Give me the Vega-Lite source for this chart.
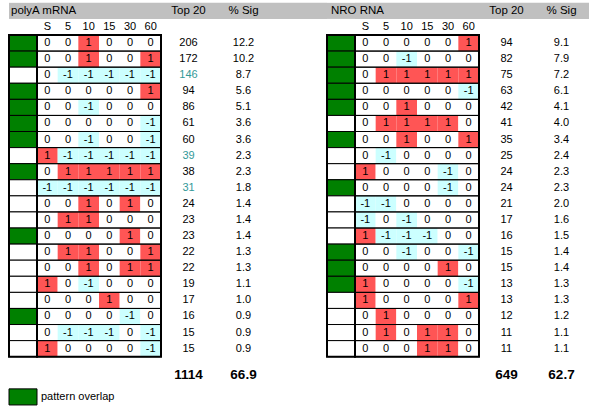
{
  "$schema": "https://vega.github.io/schema/vega-lite/v6.json",
  "padding": {"left": 8, "top": 0, "right": 0, "bottom": 0},
  "spacing": 0,
  "bounds": "flush",
  "config": {
    "font": "Liberation Sans",
    "view": {"stroke": null},
    "axis": {"disable": true},
    "text": {"font": "Liberation Sans", "fontSize": 11, "baseline": "middle", "color": "black"}
  },
  "datasets": {
    "patterns": [
      {"p":"polyA mRNA","rank":1,"overlap":true,"S":0,"5":0,"10":1,"15":0,"30":0,"60":0,"top20":206,"sig":12.2},
      {"p":"polyA mRNA","rank":2,"overlap":true,"S":0,"5":0,"10":1,"15":0,"30":0,"60":1,"top20":172,"sig":10.2},
      {"p":"polyA mRNA","rank":3,"overlap":false,"S":0,"5":-1,"10":-1,"15":-1,"30":-1,"60":-1,"top20":146,"sig":8.7},
      {"p":"polyA mRNA","rank":4,"overlap":true,"S":0,"5":0,"10":0,"15":0,"30":0,"60":1,"top20":94,"sig":5.6},
      {"p":"polyA mRNA","rank":5,"overlap":true,"S":0,"5":0,"10":-1,"15":0,"30":0,"60":0,"top20":86,"sig":5.1},
      {"p":"polyA mRNA","rank":6,"overlap":true,"S":0,"5":0,"10":0,"15":0,"30":0,"60":-1,"top20":61,"sig":3.6},
      {"p":"polyA mRNA","rank":7,"overlap":true,"S":0,"5":0,"10":-1,"15":0,"30":0,"60":-1,"top20":60,"sig":3.6},
      {"p":"polyA mRNA","rank":8,"overlap":false,"S":1,"5":-1,"10":-1,"15":-1,"30":-1,"60":-1,"top20":39,"sig":2.3},
      {"p":"polyA mRNA","rank":9,"overlap":true,"S":0,"5":1,"10":1,"15":1,"30":1,"60":1,"top20":38,"sig":2.3},
      {"p":"polyA mRNA","rank":10,"overlap":false,"S":-1,"5":-1,"10":-1,"15":-1,"30":-1,"60":-1,"top20":31,"sig":1.8},
      {"p":"polyA mRNA","rank":11,"overlap":false,"S":0,"5":0,"10":1,"15":0,"30":1,"60":0,"top20":24,"sig":1.4},
      {"p":"polyA mRNA","rank":12,"overlap":false,"S":0,"5":1,"10":1,"15":0,"30":0,"60":0,"top20":23,"sig":1.4},
      {"p":"polyA mRNA","rank":13,"overlap":true,"S":0,"5":0,"10":0,"15":0,"30":1,"60":0,"top20":23,"sig":1.4},
      {"p":"polyA mRNA","rank":14,"overlap":false,"S":0,"5":1,"10":1,"15":0,"30":0,"60":1,"top20":22,"sig":1.3},
      {"p":"polyA mRNA","rank":15,"overlap":false,"S":0,"5":0,"10":1,"15":0,"30":1,"60":1,"top20":22,"sig":1.3},
      {"p":"polyA mRNA","rank":16,"overlap":false,"S":1,"5":0,"10":-1,"15":0,"30":0,"60":0,"top20":19,"sig":1.1},
      {"p":"polyA mRNA","rank":17,"overlap":false,"S":0,"5":0,"10":0,"15":1,"30":0,"60":0,"top20":17,"sig":1.0},
      {"p":"polyA mRNA","rank":18,"overlap":true,"S":0,"5":0,"10":0,"15":0,"30":-1,"60":0,"top20":16,"sig":0.9},
      {"p":"polyA mRNA","rank":19,"overlap":false,"S":0,"5":-1,"10":-1,"15":-1,"30":0,"60":-1,"top20":15,"sig":0.9},
      {"p":"polyA mRNA","rank":20,"overlap":false,"S":1,"5":0,"10":0,"15":0,"30":0,"60":-1,"top20":15,"sig":0.9},
      {"p":"NRO RNA","rank":1,"overlap":true,"S":0,"5":0,"10":0,"15":0,"30":0,"60":1,"top20":94,"sig":9.1},
      {"p":"NRO RNA","rank":2,"overlap":true,"S":0,"5":0,"10":-1,"15":0,"30":0,"60":0,"top20":82,"sig":7.9},
      {"p":"NRO RNA","rank":3,"overlap":true,"S":0,"5":1,"10":1,"15":1,"30":1,"60":1,"top20":75,"sig":7.2},
      {"p":"NRO RNA","rank":4,"overlap":true,"S":0,"5":0,"10":0,"15":0,"30":0,"60":-1,"top20":63,"sig":6.1},
      {"p":"NRO RNA","rank":5,"overlap":true,"S":0,"5":0,"10":1,"15":0,"30":0,"60":0,"top20":42,"sig":4.1},
      {"p":"NRO RNA","rank":6,"overlap":false,"S":0,"5":1,"10":1,"15":1,"30":1,"60":0,"top20":41,"sig":4.0},
      {"p":"NRO RNA","rank":7,"overlap":true,"S":0,"5":0,"10":1,"15":0,"30":0,"60":1,"top20":35,"sig":3.4},
      {"p":"NRO RNA","rank":8,"overlap":false,"S":0,"5":-1,"10":0,"15":0,"30":0,"60":0,"top20":25,"sig":2.4},
      {"p":"NRO RNA","rank":9,"overlap":false,"S":1,"5":0,"10":0,"15":0,"30":-1,"60":0,"top20":24,"sig":2.3},
      {"p":"NRO RNA","rank":10,"overlap":true,"S":0,"5":0,"10":0,"15":0,"30":-1,"60":0,"top20":24,"sig":2.3},
      {"p":"NRO RNA","rank":11,"overlap":false,"S":-1,"5":-1,"10":0,"15":0,"30":0,"60":0,"top20":21,"sig":2.0},
      {"p":"NRO RNA","rank":12,"overlap":false,"S":-1,"5":0,"10":-1,"15":0,"30":0,"60":0,"top20":17,"sig":1.6},
      {"p":"NRO RNA","rank":13,"overlap":false,"S":1,"5":-1,"10":-1,"15":-1,"30":0,"60":0,"top20":16,"sig":1.5},
      {"p":"NRO RNA","rank":14,"overlap":true,"S":0,"5":0,"10":-1,"15":0,"30":0,"60":-1,"top20":15,"sig":1.4},
      {"p":"NRO RNA","rank":15,"overlap":true,"S":0,"5":0,"10":0,"15":0,"30":1,"60":0,"top20":15,"sig":1.4},
      {"p":"NRO RNA","rank":16,"overlap":true,"S":1,"5":0,"10":0,"15":0,"30":0,"60":-1,"top20":13,"sig":1.3},
      {"p":"NRO RNA","rank":17,"overlap":false,"S":1,"5":0,"10":0,"15":0,"30":0,"60":1,"top20":13,"sig":1.3},
      {"p":"NRO RNA","rank":18,"overlap":false,"S":0,"5":1,"10":0,"15":0,"30":0,"60":0,"top20":12,"sig":1.2},
      {"p":"NRO RNA","rank":19,"overlap":false,"S":0,"5":1,"10":0,"15":1,"30":1,"60":0,"top20":11,"sig":1.1},
      {"p":"NRO RNA","rank":20,"overlap":false,"S":0,"5":0,"10":0,"15":1,"30":1,"60":0,"top20":11,"sig":1.1}
    ],
    "totals": [
      {"p":"polyA mRNA","top20":1114,"sig":66.9},
      {"p":"NRO RNA","top20":649,"sig":62.7}
    ]
  },
  "hconcat": [
    {
      "width": 28, "height": 411,
      "layer": [
        {"data":{"values":[{}]},"mark":{"type":"rect","fill":"#c0c0c0"},
         "encoding":{"y":{"datum":"head","type":"ordinal","scale":{"type":"band","domain":["head","cols",1,2,3,4,5,6,7,8,9,10,11,12,13,14,15,16,17,18,19,20,"total","gap","legend"],"paddingInner":0,"paddingOuter":0.2759,"align":0.3189,"round":false}}}},
        {"data":{"name":"patterns"},"transform":[{"filter":"datum.p == 'polyA mRNA'"}],
         "mark":{"type":"rect","stroke":"black","strokeWidth":1},
         "encoding":{"y":{"field":"rank","type":"ordinal"},
                     "fill":{"condition":{"test":"datum.overlap","value":"#008000"},"value":"#ffffff"}}},
        {"data":{"values":[{}]},"mark":{"type":"rect","fill":"transparent","stroke":"black","strokeWidth":2},
         "encoding":{"y":{"datum":1,"type":"ordinal","bandPosition":0},"y2":{"datum":20,"bandPosition":1}}},
        {"data":{"values":[{"label":"pattern overlap"}]},"mark":{"type":"rect","fill":"#008000","stroke":"black","strokeWidth":1},
         "encoding":{"y":{"datum":"legend","type":"ordinal"}}},
        {"data":{"values":[{"label":"pattern overlap"}]},"mark":{"type":"text","align":"left","dx":18},
         "encoding":{"y":{"datum":"legend","type":"ordinal","bandPosition":0.5},"text":{"field":"label"}}}
      ]
    },
    {
      "width": 124, "height": 411,
      "layer": [
        {"data":{"values":[{}]},"mark":{"type":"rect","fill":"#c0c0c0"},
         "encoding":{"y":{"datum":"head","type":"ordinal","scale":{"type":"band","domain":["head","cols",1,2,3,4,5,6,7,8,9,10,11,12,13,14,15,16,17,18,19,20,"total","gap","legend"],"paddingInner":0,"paddingOuter":0.2759,"align":0.3189,"round":false}}}},
        {"data":{"name":"patterns"},"transform":[{"filter":"datum.p == 'polyA mRNA'"},{"fold":["S","5","10","15","30","60"],"as":["t","v"]}],
         "mark":{"type":"rect"},
         "encoding":{"x":{"field":"t","type":"ordinal","scale":{"type":"band","domain":["S","5","10","15","30","60"],"paddingInner":0,"paddingOuter":0,"round":false}},
                     "y":{"field":"rank","type":"ordinal"},
                     "fill":{"field":"v","type":"ordinal","scale":{"domain":[-1,0,1],"range":["#ccffff","#ffffff","#ff5555"]},"legend":null}}},
        {"data":{"values":[{"p":"polyA mRNA"}]},"mark":{"type":"text","align":"left","dx":-26,"fontSize":11.5},
         "encoding":{"x":{"datum":"S","type":"ordinal","bandPosition":0},
                     "y":{"datum":"head","type":"ordinal","bandPosition":0.5},"text":{"field":"p"}}},
        {"data":{"name":"patterns"},"transform":[{"filter":"datum.p == 'polyA mRNA'"},{"fold":["S","5","10","15","30","60"],"as":["t","v"]}],
         "mark":{"type":"text"},
         "encoding":{"x":{"field":"t","type":"ordinal","bandPosition":0.5},
                     "y":{"field":"rank","type":"ordinal","bandPosition":0.5},
                     "text":{"field":"v","type":"nominal"}}},
        {"data":{"name":"patterns"},"transform":[{"filter":"datum.p == 'polyA mRNA' && datum.rank == 1"},{"fold":["S","5","10","15","30","60"],"as":["t","v"]}],
         "mark":{"type":"text"},
         "encoding":{"x":{"field":"t","type":"ordinal","bandPosition":0.5},
                     "y":{"datum":"cols","type":"ordinal","bandPosition":0.5},
                     "text":{"field":"t","type":"nominal"}}},
        {"data":{"name":"patterns"},"transform":[{"filter":"datum.p == 'polyA mRNA'"}],
         "mark":{"type":"rect","fill":"transparent","stroke":"black","strokeWidth":1},
         "encoding":{"y":{"field":"rank","type":"ordinal"}}},
        {"data":{"values":[{}]},"mark":{"type":"rect","fill":"transparent","stroke":"black","strokeWidth":2},
         "encoding":{"y":{"datum":1,"type":"ordinal","bandPosition":0},"y2":{"datum":20,"bandPosition":1}}}
      ]
    },
    {
      "width": 166, "height": 411,
      "layer": [
        {"data":{"values":[{}]},"mark":{"type":"rect","fill":"#c0c0c0"},
         "encoding":{"y":{"datum":"head","type":"ordinal","scale":{"type":"band","domain":["head","cols",1,2,3,4,5,6,7,8,9,10,11,12,13,14,15,16,17,18,19,20,"total","gap","legend"],"paddingInner":0,"paddingOuter":0.2759,"align":0.3189,"round":false}}}},
        {"data":{"values":[{"h":"Top 20"},{"h":"% Sig"}]},"mark":{"type":"text","fontSize":11.5},
         "encoding":{"x":{"field":"h","type":"nominal","bandPosition":0.5,"scale":{"type":"band","domain":["Top 20","% Sig"],"paddingInner":0,"paddingOuter":0.509,"align":0,"round":false}},
                     "y":{"datum":"head","type":"ordinal","bandPosition":0.5},
                     "text":{"field":"h"}}},
        {"data":{"name":"patterns"},"transform":[{"filter":"datum.p == 'polyA mRNA'"}],
         "mark":{"type":"text"},
         "encoding":{"x":{"datum":"Top 20","type":"nominal","bandPosition":0.5},
                     "y":{"field":"rank","type":"ordinal","bandPosition":0.5},
                     "text":{"field":"top20","type":"nominal"},
                     "color":{"condition":{"test":"datum['5'] == -1 && datum['10'] == -1 && datum['15'] == -1 && datum['30'] == -1 && datum['60'] == -1","value":"#339999"},"value":"black"}}},
        {"data":{"name":"patterns"},"transform":[{"filter":"datum.p == 'polyA mRNA'"}],
         "mark":{"type":"text"},
         "encoding":{"x":{"datum":"% Sig","type":"nominal","bandPosition":0.5},
                     "y":{"field":"rank","type":"ordinal","bandPosition":0.5},
                     "text":{"field":"sig","type":"quantitative","format":".1f"}}},
        {"data":{"name":"totals"},"transform":[{"filter":"datum.p == 'polyA mRNA'"}],
         "mark":{"type":"text","fontWeight":"bold","fontSize":13.5,"dy":10},
         "encoding":{"x":{"datum":"Top 20","type":"nominal","bandPosition":0.5},
                     "y":{"datum":"total","type":"ordinal","bandPosition":0.5},
                     "text":{"field":"top20","type":"nominal"}}},
        {"data":{"name":"totals"},"transform":[{"filter":"datum.p == 'polyA mRNA'"}],
         "mark":{"type":"text","fontWeight":"bold","fontSize":13.5,"dy":10},
         "encoding":{"x":{"datum":"% Sig","type":"nominal","bandPosition":0.5},
                     "y":{"datum":"total","type":"ordinal","bandPosition":0.5},
                     "text":{"field":"sig","type":"quantitative","format":".1f"}}}
      ]
    },
    {
      "width": 28, "height": 411,
      "layer": [
        {"data":{"values":[{}]},"mark":{"type":"rect","fill":"#c0c0c0"},
         "encoding":{"y":{"datum":"head","type":"ordinal","scale":{"type":"band","domain":["head","cols",1,2,3,4,5,6,7,8,9,10,11,12,13,14,15,16,17,18,19,20,"total","gap","legend"],"paddingInner":0,"paddingOuter":0.2759,"align":0.3189,"round":false}}}},
        {"data":{"name":"patterns"},"transform":[{"filter":"datum.p == 'NRO RNA'"}],
         "mark":{"type":"rect","stroke":"black","strokeWidth":1},
         "encoding":{"y":{"field":"rank","type":"ordinal"},
                     "fill":{"condition":{"test":"datum.overlap","value":"#008000"},"value":"#ffffff"}}},
        {"data":{"values":[{}]},"mark":{"type":"rect","fill":"transparent","stroke":"black","strokeWidth":2},
         "encoding":{"y":{"datum":1,"type":"ordinal","bandPosition":0},"y2":{"datum":20,"bandPosition":1}}}
      ]
    },
    {
      "width": 124, "height": 411,
      "layer": [
        {"data":{"values":[{}]},"mark":{"type":"rect","fill":"#c0c0c0"},
         "encoding":{"y":{"datum":"head","type":"ordinal","scale":{"type":"band","domain":["head","cols",1,2,3,4,5,6,7,8,9,10,11,12,13,14,15,16,17,18,19,20,"total","gap","legend"],"paddingInner":0,"paddingOuter":0.2759,"align":0.3189,"round":false}}}},
        {"data":{"name":"patterns"},"transform":[{"filter":"datum.p == 'NRO RNA'"},{"fold":["S","5","10","15","30","60"],"as":["t","v"]}],
         "mark":{"type":"rect"},
         "encoding":{"x":{"field":"t","type":"ordinal","scale":{"type":"band","domain":["S","5","10","15","30","60"],"paddingInner":0,"paddingOuter":0,"round":false}},
                     "y":{"field":"rank","type":"ordinal"},
                     "fill":{"field":"v","type":"ordinal","scale":{"domain":[-1,0,1],"range":["#ccffff","#ffffff","#ff5555"]},"legend":null}}},
        {"data":{"values":[{"p":"NRO RNA"}]},"mark":{"type":"text","align":"left","dx":-24,"fontSize":11.5},
         "encoding":{"x":{"datum":"S","type":"ordinal","bandPosition":0},
                     "y":{"datum":"head","type":"ordinal","bandPosition":0.5},"text":{"field":"p"}}},
        {"data":{"name":"patterns"},"transform":[{"filter":"datum.p == 'NRO RNA'"},{"fold":["S","5","10","15","30","60"],"as":["t","v"]}],
         "mark":{"type":"text"},
         "encoding":{"x":{"field":"t","type":"ordinal","bandPosition":0.5},
                     "y":{"field":"rank","type":"ordinal","bandPosition":0.5},
                     "text":{"field":"v","type":"nominal"}}},
        {"data":{"name":"patterns"},"transform":[{"filter":"datum.p == 'NRO RNA' && datum.rank == 1"},{"fold":["S","5","10","15","30","60"],"as":["t","v"]}],
         "mark":{"type":"text"},
         "encoding":{"x":{"field":"t","type":"ordinal","bandPosition":0.5},
                     "y":{"datum":"cols","type":"ordinal","bandPosition":0.5},
                     "text":{"field":"t","type":"nominal"}}},
        {"data":{"name":"patterns"},"transform":[{"filter":"datum.p == 'NRO RNA'"}],
         "mark":{"type":"rect","fill":"transparent","stroke":"black","strokeWidth":1},
         "encoding":{"y":{"field":"rank","type":"ordinal"}}},
        {"data":{"values":[{}]},"mark":{"type":"rect","fill":"transparent","stroke":"black","strokeWidth":2},
         "encoding":{"y":{"datum":1,"type":"ordinal","bandPosition":0},"y2":{"datum":20,"bandPosition":1}}}
      ]
    },
    {
      "width": 110, "height": 411,
      "layer": [
        {"data":{"values":[{}]},"mark":{"type":"rect","fill":"#c0c0c0"},
         "encoding":{"y":{"datum":"head","type":"ordinal","scale":{"type":"band","domain":["head","cols",1,2,3,4,5,6,7,8,9,10,11,12,13,14,15,16,17,18,19,20,"total","gap","legend"],"paddingInner":0,"paddingOuter":0.2759,"align":0.3189,"round":false}}}},
        {"data":{"values":[{"h":"Top 20"},{"h":"% Sig"}]},"mark":{"type":"text","fontSize":11.5},
         "encoding":{"x":{"field":"h","type":"nominal","bandPosition":0.5,"scale":{"type":"band","domain":["Top 20","% Sig"],"paddingInner":0,"paddingOuter":0,"round":false}},
                     "y":{"datum":"head","type":"ordinal","bandPosition":0.5},
                     "text":{"field":"h"}}},
        {"data":{"name":"patterns"},"transform":[{"filter":"datum.p == 'NRO RNA'"}],
         "mark":{"type":"text"},
         "encoding":{"x":{"datum":"Top 20","type":"nominal","bandPosition":0.5},
                     "y":{"field":"rank","type":"ordinal","bandPosition":0.5},
                     "text":{"field":"top20","type":"nominal"},
                     "color":{"condition":{"test":"datum['5'] == -1 && datum['10'] == -1 && datum['15'] == -1 && datum['30'] == -1 && datum['60'] == -1","value":"#339999"},"value":"black"}}},
        {"data":{"name":"patterns"},"transform":[{"filter":"datum.p == 'NRO RNA'"}],
         "mark":{"type":"text"},
         "encoding":{"x":{"datum":"% Sig","type":"nominal","bandPosition":0.5},
                     "y":{"field":"rank","type":"ordinal","bandPosition":0.5},
                     "text":{"field":"sig","type":"quantitative","format":".1f"}}},
        {"data":{"name":"totals"},"transform":[{"filter":"datum.p == 'NRO RNA'"}],
         "mark":{"type":"text","fontWeight":"bold","fontSize":13.5,"dy":10},
         "encoding":{"x":{"datum":"Top 20","type":"nominal","bandPosition":0.5},
                     "y":{"datum":"total","type":"ordinal","bandPosition":0.5},
                     "text":{"field":"top20","type":"nominal"}}},
        {"data":{"name":"totals"},"transform":[{"filter":"datum.p == 'NRO RNA'"}],
         "mark":{"type":"text","fontWeight":"bold","fontSize":13.5,"dy":10},
         "encoding":{"x":{"datum":"% Sig","type":"nominal","bandPosition":0.5},
                     "y":{"datum":"total","type":"ordinal","bandPosition":0.5},
                     "text":{"field":"sig","type":"quantitative","format":".1f"}}}
      ]
    }
  ]
}
